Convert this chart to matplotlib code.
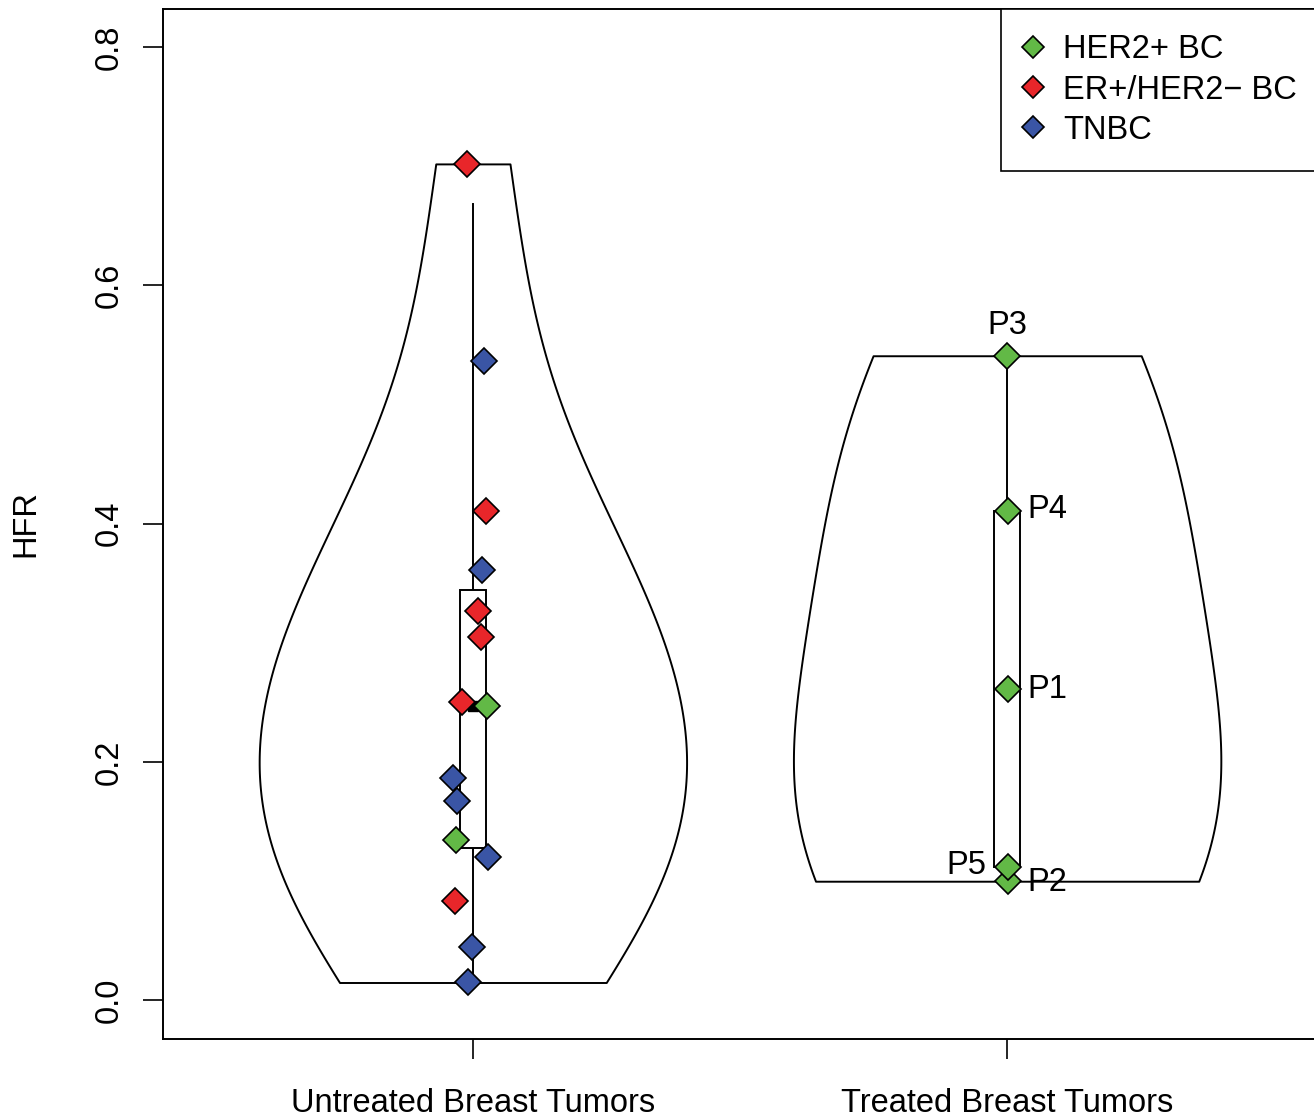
import numpy as np
import matplotlib
matplotlib.use('Agg')
import matplotlib.pyplot as plt
from matplotlib.patches import Rectangle
from matplotlib.lines import Line2D

plt.rcParams['font.family'] = ['Liberation Sans', 'DejaVu Sans']
plt.rcParams['font.size'] = 23.5

# groups on the x axis
groups = ['Untreated Breast Tumors', 'Treated Breast Tumors']
positions = [1, 2]

# subtypes for the legend
subtypes = ['HER2', 'ER', 'TN']
subtype_names = ['HER2+ BC', 'ER+/HER2\u2212 BC', 'TNBC']
subtype_colors = ['#62b946', '#e8262a', '#3a55a5']

# untreated tumours: HFR, subtype, horizontal jitter
untreated_hfr = [0.702, 0.537, 0.411, 0.361, 0.327, 0.305, 0.250, 0.247,
                 0.187, 0.167, 0.135, 0.120, 0.083, 0.045, 0.015]
untreated_type = ['ER', 'TN', 'ER', 'TN', 'ER', 'ER', 'ER', 'HER2',
                  'TN', 'TN', 'HER2', 'TN', 'ER', 'TN', 'TN']
untreated_jitter = [-0.011, 0.021, 0.024, 0.017, 0.009, 0.015, -0.021, 0.026,
                    -0.037, -0.030, -0.032, 0.028, -0.034, -0.002, -0.009]

# treated tumours (all HER2+), labelled by patient
treated_hfr = [0.261, 0.100, 0.541, 0.411, 0.112]
treated_type = ['HER2', 'HER2', 'HER2', 'HER2', 'HER2']
treated_jitter = [0.002, 0.002, 0.0, 0.001, 0.002]
treated_labels = ['P1', 'P2', 'P3', 'P4', 'P5']

fig = plt.figure(figsize=(13.14, 11.2), dpi=100)
ax = fig.add_axes([163 / 1314, 81.5 / 1120, 1154 / 1314, 1029.5 / 1120])

data = [np.array(untreated_hfr), np.array(treated_hfr)]
bw_scale = [1.12, 1.0]

# violins, normal-reference bandwidth (like sm.density's hnorm)
for vals, pos, k in zip(data, positions, bw_scale):
    bw = k * (4 / (3 * len(vals))) ** 0.2
    parts = ax.violinplot([vals], positions=[pos], widths=0.8, showextrema=False,
                          bw_method=bw, points=200)
    for b in parts['bodies']:
        b.set_facecolor('white')
        b.set_edgecolor('black')
        b.set_alpha(1)
        b.set_linewidth(1.4)
        b.set_zorder(1)

# box, whiskers and median as in vioplot
for vals, pos in zip(data, positions):
    q1, med, q3 = np.percentile(vals, [25, 50, 75])
    iqr = q3 - q1
    hi = min(vals.max(), q3 + 1.5 * iqr)
    lo = max(vals.min(), q1 - 1.5 * iqr)
    ax.plot([pos, pos], [lo, hi], color='black', lw=1.4, zorder=2)
    ax.add_patch(Rectangle((pos - 0.025, q1), 0.05, q3 - q1, facecolor='white',
                           edgecolor='black', lw=1.4, zorder=3))
    ax.plot(pos, med, marker='s', ms=7, color='black', zorder=4)

# points
for t, c in zip(subtypes, subtype_colors):
    xs, ys = [], []
    for y, tt, j in zip(untreated_hfr, untreated_type, untreated_jitter):
        if tt == t:
            xs.append(1 + j)
            ys.append(y)
    for y, tt, j in zip(treated_hfr, treated_type, treated_jitter):
        if tt == t:
            xs.append(2 + j)
            ys.append(y)
    ax.plot(xs, ys, ls='none', marker='D', ms=13, mfc=c, mec='black', mew=1.2, zorder=5)

# patient labels
label_offsets = {'P1': (14, 0, 'left'), 'P2': (14, -1, 'left'), 'P3': (0, 22, 'center'),
                 'P4': (14, 1, 'left'), 'P5': (-16, 1, 'right')}
for y, j, lab in zip(treated_hfr, treated_jitter, treated_labels):
    dx, dy, ha = label_offsets[lab]
    ax.annotate(lab, (2 + j, y), xytext=(dx, dy), textcoords='offset points',
                ha=ha, va='center', fontsize=23.5, zorder=6)

ax.set_xlim(0.42, 2.58)
ax.set_ylim(-0.032, 0.832)
ax.set_xticks(positions)
ax.set_xticklabels(groups)
ax.set_yticks([0.0, 0.2, 0.4, 0.6, 0.8])
ax.set_yticklabels(['0.0', '0.2', '0.4', '0.6', '0.8'], rotation=90, va='center')
ax.tick_params(axis='both', direction='out', length=14.4, width=1.2, labelsize=23.5)
ax.tick_params(axis='x', pad=21)
ax.tick_params(axis='y', pad=13)
for s in ax.spines.values():
    s.set_linewidth(1.4)

ax.set_ylabel('HFR', fontsize=23.5)
ax.yaxis.set_label_coords(-0.105, 0.5)

handles = [Line2D([], [], ls='none', marker='D', ms=11, mfc=c, mec='black', mew=1.2)
           for c in subtype_colors]
leg = ax.legend(handles, subtype_names, loc='upper right', bbox_to_anchor=(1.0045, 1),
                borderaxespad=0, fancybox=False, framealpha=1, edgecolor='black',
                fontsize=23.5, handlelength=0.36, handletextpad=0.74,
                borderpad=0.78, labelspacing=0.28)
leg.get_frame().set_linewidth(1.2)

fig.savefig('out.png', dpi=100)
